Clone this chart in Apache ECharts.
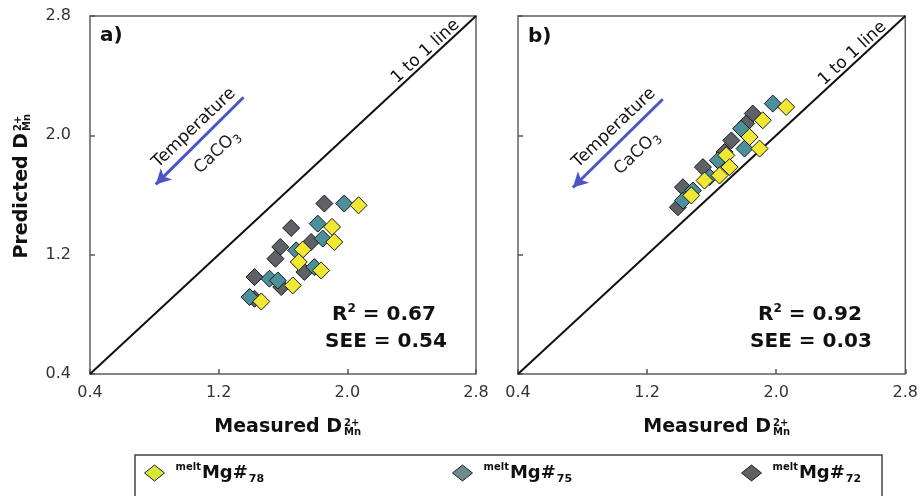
<!DOCTYPE html>
<html><head><meta charset="utf-8">
<script src="https://cdn.jsdelivr.net/npm/echarts@6/dist/echarts.min.js"></script>
<style>html,body{margin:0;padding:0;background:#fff}#c{width:921px;height:496px}</style>
</head><body><div id="c"></div>
<script>
// ---- data ----
const tickValues = [0.4, 1.2, 2.0, 2.8];
const seriesNames = ['Mg72', 'Mg75', 'Mg78'];
const seriesSubs = ['72', '75', '78'];
// panel a) [measured, predicted]
const a72 = [[1.857,1.543],[1.651,1.379],[1.775,1.285],[1.583,1.252],[1.553,1.173],[1.733,1.084],[1.423,1.050],[1.589,0.983],[1.423,0.904]];
const a75 = [[1.981,1.543],[1.816,1.408],[1.847,1.308],[1.682,1.229],[1.795,1.117],[1.516,1.039],[1.568,1.027],[1.392,0.916]];
const a78 = [[2.070,1.531],[1.905,1.386],[1.919,1.285],[1.723,1.234],[1.698,1.151],[1.837,1.094],[1.661,0.994],[1.465,0.886]];
// panel b)
const b72 = [[1.855,2.146],[1.814,2.079],[1.722,1.966],[1.680,1.888],[1.546,1.787],[1.422,1.652],[1.391,1.518]];
const b75 = [[1.979,2.213],[1.783,2.045],[1.804,1.911],[1.639,1.832],[1.587,1.720],[1.484,1.630],[1.422,1.563]];
const b78 = [[2.062,2.190],[1.917,2.101],[1.835,1.989],[1.897,1.911],[1.691,1.866],[1.711,1.787],[1.649,1.731],[1.556,1.697],[1.474,1.597]];
const statsA = ['0.67', '0.54'];
const statsB = ['0.92', '0.03'];
const panelLabels = ['a)', 'b)'];

// ---- styles ----
const markerColors = ['#5e6168', '#4d8f9a', '#f0e832'];
const legendColors = ['#5f6062', '#6f8a8c', '#d6e63a'];
const FONT = '"DejaVu Sans", sans-serif';

const chart = echarts.init(document.getElementById('c'), null, {renderer: 'canvas'});

const gridDefs = [
  {left: 90, top: 16, width: 386, height: 358},
  {left: 518, top: 16, width: 388, height: 358}
];
const grids = gridDefs.map(g => Object.assign({show: true, borderColor: '#606060', borderWidth: 1.5, backgroundColor: 'transparent'}, g));

function axis(gi, isX, showLabel) {
  return {
    type: 'value', gridIndex: gi,
    min: tickValues[0], max: tickValues[tickValues.length - 1],
    axisLine: {show: false}, splitLine: {show: false},
    axisTick: {show: true, inside: true, length: 5, customValues: tickValues, lineStyle: {color: '#555', width: 1.5}},
    axisLabel: {show: showLabel, customValues: tickValues, formatter: v => v.toFixed(1),
      margin: isX ? 11 : 19, fontSize: 16, fontFamily: FONT, color: '#333',
      showMinLabel: true, showMaxLabel: true}
  };
}

const panelData = [[a72, a75, a78], [b72, b75, b78]];
const arrows = [
  [[0.809, 1.671], [1.355, 2.255]],
  [[0.740, 1.650], [1.297, 2.242]]
];

const series = [];
[0, 1].forEach(p => {
  series.push({
    type: 'line', xAxisIndex: p, yAxisIndex: p, silent: true, z: 1,
    data: [[tickValues[0], tickValues[0]], [tickValues[3], tickValues[3]]],
    symbol: 'none', lineStyle: {color: '#111', width: 2},
    markLine: {
      silent: true, symbol: ['arrow', 'none'], symbolSize: [12, 15],
      lineStyle: {color: '#4b55c6', width: 3, type: 'solid'},
      label: {show: false},
      data: [[{coord: arrows[p][0]}, {coord: arrows[p][1]}]]
    }
  });
  panelData[p].forEach((d, i) => {
    series.push({
      name: seriesNames[i], type: 'scatter', xAxisIndex: p, yAxisIndex: p, z: 3,
      symbol: 'diamond', symbolSize: 17, data: d,
      itemStyle: {color: markerColors[i], borderColor: '#1a1a1a', borderWidth: 1, opacity: 1}
    });
  });
});

const legendLeft = [741, 452, 144];
const legends = seriesNames.map((n, i) => ({
  data: [{name: n, icon: 'diamond', itemStyle: {color: legendColors[i], borderColor: '#222', borderWidth: 1}}],
  left: legendLeft[i], top: 460, padding: 0, itemWidth: 20, itemHeight: 16, selectedMode: false,
  formatter: () => '{sup|melt}{big|Mg#}{sub|' + seriesSubs[i] + '}',
  textStyle: {
    fontFamily: FONT, color: '#111',
    rich: {
      sup: {fontSize: 10, fontWeight: 'bold', verticalAlign: 'top', lineHeight: 26, padding: [2, 1, 0, 6], fontFamily: FONT, color: '#111'},
      big: {fontSize: 18, fontWeight: 'bold', verticalAlign: 'middle', fontFamily: FONT, color: '#111'},
      sub: {fontSize: 11, fontWeight: 'bold', verticalAlign: 'bottom', lineHeight: 26, padding: [0, 0, 1, 1], fontFamily: FONT, color: '#111'}
    }
  }
}));

function dTitle(x, y, rot, word) {
  return {type: 'group', x: x, y: y, rotation: rot, silent: true, children: [
    {type: 'text', x: 53, y: 0, style: {text: word + ' D', font: 'bold 19px ' + FONT, fill: '#111', align: 'right', verticalAlign: 'middle'}},
    {type: 'text', x: 55, y: -4, style: {text: '2+', font: 'bold 10px ' + FONT, fill: '#111', align: 'left', verticalAlign: 'middle'}},
    {type: 'text', x: 55, y: 5, style: {text: 'Mn', font: 'bold 10px ' + FONT, fill: '#111', align: 'left', verticalAlign: 'middle'}}
  ]};
}
function txt(x, y, text, font, rot, extra) {
  return Object.assign({type: 'text', x: x, y: y, rotation: rot || 0, silent: true,
    style: {text: text, font: font, fill: '#111', align: 'center', verticalAlign: 'middle'}}, extra || {});
}
const lineAng = 42.7 * Math.PI / 180;
const arrAng = 43.5 * Math.PI / 180;
const richSub = {s: {fontSize: 12, verticalAlign: 'bottom', lineHeight: 23, fontFamily: FONT, fill: '#222'}};
const richSup = {s: {fontSize: 12, fontWeight: 'bold', verticalAlign: 'top', lineHeight: 24, fontFamily: FONT, fill: '#111'}};

const graphic = [
  dTitle(22, 186, Math.PI / 2, 'Predicted'),
  dTitle(289, 427, 0, 'Measured'),
  dTitle(718, 427, 0, 'Measured'),
  {type: 'text', x: 100, y: 36, silent: true, style: {text: panelLabels[0], font: 'bold 20px ' + FONT, fill: '#111', align: 'left', verticalAlign: 'middle'}},
  {type: 'text', x: 528, y: 37, silent: true, style: {text: panelLabels[1], font: 'bold 20px ' + FONT, fill: '#111', align: 'left', verticalAlign: 'middle'}},
  txt(425.5, 51.5, '1 to 1 line', '17px ' + FONT, lineAng),
  txt(852.5, 53.5, '1 to 1 line', '17px ' + FONT, lineAng),
  txt(194, 128, 'Temperature', '17px ' + FONT, arrAng),
  txt(614, 128, 'Temperature', '17px ' + FONT, arrAng),
  {type: 'text', x: 217, y: 152, rotation: arrAng, silent: true, style: {text: 'CaCO{s|3}', font: '17px ' + FONT, fill: '#222', align: 'center', verticalAlign: 'middle', rich: richSub}},
  {type: 'text', x: 637, y: 153, rotation: arrAng, silent: true, style: {text: 'CaCO{s|3}', font: '17px ' + FONT, fill: '#222', align: 'center', verticalAlign: 'middle', rich: richSub}},
  {type: 'text', x: 384, y: 315, silent: true, style: {text: 'R{s|2} = ' + statsA[0], font: 'bold 20px ' + FONT, fill: '#111', align: 'center', verticalAlign: 'middle', rich: richSup}},
  {type: 'text', x: 386, y: 342, silent: true, style: {text: 'SEE = ' + statsA[1], font: 'bold 20px ' + FONT, fill: '#111', align: 'center', verticalAlign: 'middle'}},
  {type: 'text', x: 810, y: 315, silent: true, style: {text: 'R{s|2} = ' + statsB[0], font: 'bold 20px ' + FONT, fill: '#111', align: 'center', verticalAlign: 'middle', rich: richSup}},
  {type: 'text', x: 811, y: 342, silent: true, style: {text: 'SEE = ' + statsB[1], font: 'bold 20px ' + FONT, fill: '#111', align: 'center', verticalAlign: 'middle'}},
  {type: 'rect', silent: true, shape: {x: 135, y: 455, width: 747, height: 60}, style: {fill: 'none', stroke: '#444', lineWidth: 1.5}}
];

chart.setOption({
  animation: false,
  backgroundColor: '#fff',
  textStyle: {fontFamily: FONT},
  grid: grids,
  xAxis: [axis(0, true, true), axis(1, true, true)],
  yAxis: [axis(0, false, true), axis(1, false, false)],
  legend: legends,
  series: series,
  graphic: graphic
});
</script>
</body></html>
